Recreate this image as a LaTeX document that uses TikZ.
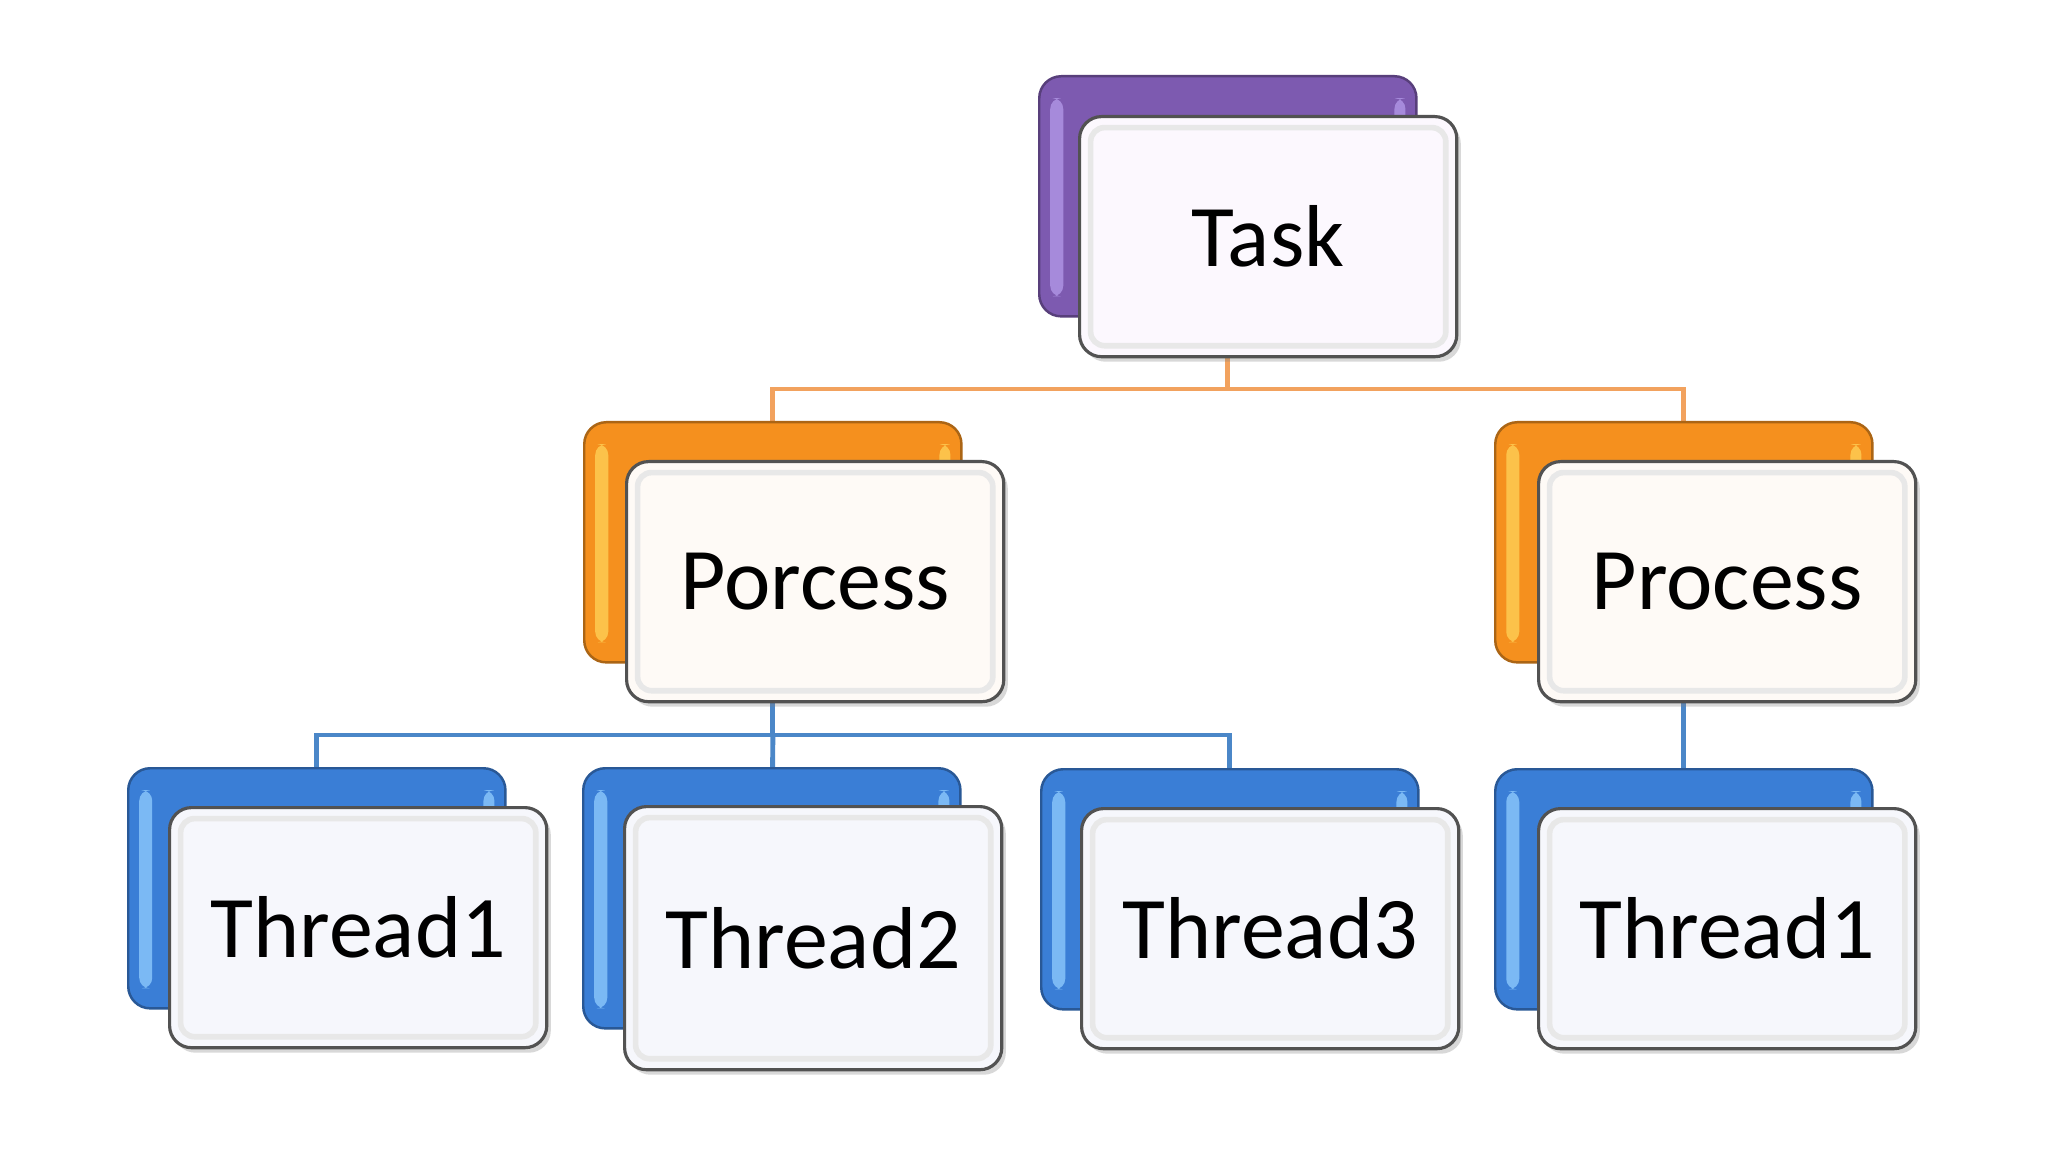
\documentclass[tikz,border=0pt]{standalone}
\usepackage{fontspec}
\setmainfont{Carlito}
\usetikzlibrary{shadows,calc}
\definecolor{purp}{HTML}{7D5AB0}
\definecolor{purphl}{HTML}{B59BEA}
\definecolor{orng}{HTML}{F5901E}
\definecolor{ornghl}{HTML}{FFD45A}
\definecolor{blu}{HTML}{3A7ED6}
\definecolor{bluhl}{HTML}{92CEFF}
\definecolor{tintp}{HTML}{FCF8FE}
\definecolor{tinto}{HTML}{FEFAF6}
\definecolor{tintb}{HTML}{F6F7FC}
\definecolor{olinec}{HTML}{F2A25E}
\definecolor{blinec}{HTML}{4B87C8}
\pgfdeclarelayer{bg}
\pgfdeclarelayer{lines}
\pgfsetlayers{bg,lines,main}
\tikzset{
  backbox/.style={rounded corners=0.22cm, minimum width=3.77cm, minimum height=2.4cm,
    anchor=north west, inner sep=0pt, draw=#1!70!black, line width=0.7pt, fill=#1,
    path picture={
      \fill[#1hl, opacity=0.75, rounded corners=3pt]
        ([xshift=0.11cm,yshift=-0.22cm]path picture bounding box.north west)
        rectangle ([xshift=0.24cm,yshift=0.2cm]path picture bounding box.south west);
      \fill[#1hl, opacity=0.75, rounded corners=3pt]
        ([xshift=-0.22cm,yshift=-0.22cm]path picture bounding box.north east)
        rectangle ([xshift=-0.11cm,yshift=0.3cm]path picture bounding box.east);
    }},
  frontbox/.style={rounded corners=0.22cm, minimum width=3.77cm, minimum height=2.4cm,
    anchor=north west, inner sep=0pt, draw=black!68, line width=0.9pt, fill=#1,
    font=\fontsize{25}{30}\selectfont,
    drop shadow={shadow xshift=0.04cm, shadow yshift=-0.05cm, opacity=0.3},
    path picture={
      \draw[black!9, line width=1.6pt, rounded corners=0.14cm]
        ([shift={(0.11cm,-0.11cm)}]path picture bounding box.north west)
        rectangle ([shift={(-0.11cm,0.11cm)}]path picture bounding box.south east);
    }},
  oconn/.style={draw=olinec, line width=1.4pt},
  bconn/.style={draw=blinec, line width=1.4pt},
}
\begin{document}
\begin{tikzpicture}[x=0.01cm,y=-0.01cm]
\begin{pgfonlayer}{bg}
\fill[white] (0,0) rectangle (2048,1152);
\end{pgfonlayer}
\useasboundingbox (0,0) rectangle (2048,1152);

% Level 1
\node[backbox=purp] (task-b) at (1038,75) {};
\node[frontbox=tintp] (task) at (1078,115) {Task};

% Level 2
\node[backbox=orng] (p1-b) at (583,421) {};
\node[frontbox=tinto] (p1) at (625,460) {Porcess};
\node[backbox=orng] (p2-b) at (1494,421) {};
\node[frontbox=tinto] (p2) at (1537,460) {Process};

% Level 3
\node[backbox=blu] (t1-b) at (127,767) {};
\node[frontbox=tintb] (t1) at (168,806) {Thread1};
\node[backbox=blu, minimum height=2.6cm] (t2-b) at (582,767) {};
\node[frontbox=tintb, minimum height=2.63cm] (t2) at (623,805) {Thread2};
\node[backbox=blu] (t3-b) at (1040,768) {};
\node[frontbox=tintb] (t3) at (1080,807) {Thread3};
\node[backbox=blu] (t4-b) at (1494,768) {};
\node[frontbox=tintb] (t4) at (1537,807) {Thread1};

% Connectors
\coordinate (jo) at (task-b.center |- 0,389);
\coordinate (jb) at (p1-b.center |- 0,735);
\begin{pgfonlayer}{lines}
\draw[oconn] (task-b.center) -- (jo) -| (p1-b.center);
\draw[oconn] (jo) -| (p2-b.center);
\draw[bconn] (p1-b.center) -- (jb) -| (t1-b.center);
\draw[bconn] (jb) -| (t3-b.center);
\draw[bconn] (jb) -- (t2-b.center);
\draw[bconn] (p2-b.center) -- (t4-b.center);
\end{pgfonlayer}
\end{tikzpicture}
\end{document}
